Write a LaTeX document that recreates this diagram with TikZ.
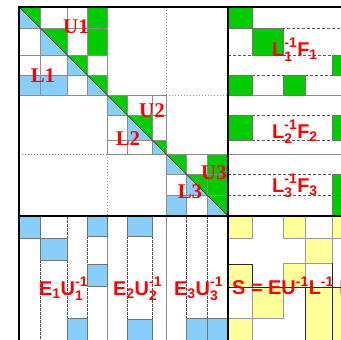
\documentclass[tikz,border=0pt]{standalone}
\usepackage{fontspec}
\usepackage{amsmath}
\setmainfont{Liberation Sans}
\newfontfamily\serlabfont{Liberation Serif}
\definecolor{gr}{RGB}{0,204,0}
\definecolor{bl}{RGB}{135,206,250}
\definecolor{yl}{RGB}{255,255,153}
\definecolor{rd}{RGB}{255,0,0}
\tikzset{
  gridl/.style={draw=black!45, line width=0.8bp},
  dotl/.style={draw=black!45, line width=0.8bp, dash pattern=on 0.8bp off 2.2bp},
  dashl/.style={draw=black!65, line width=0.7bp, dash pattern=on 3bp off 2bp},
  dashv/.style={draw=black!70, line width=0.6bp, dash pattern=on 2.5bp off 1.5bp},
  gbox/.style={fill=gr, draw=black!55, line width=0.6bp},
  bbox/.style={fill=bl, draw=black!55, line width=0.6bp},
  ybox/.style={fill=yl, draw=black!40, line width=0.6bp},
  darkl/.style={draw=black!85, line width=0.8bp},
  bord/.style={draw=black, line width=2bp},
  serlab/.style={text=rd, font=\serlabfont\bfseries\fontsize{21}{21}\selectfont, inner sep=0pt},
  sanlab/.style={text=rd, font=\bfseries\fontsize{20}{20}\selectfont, inner sep=0pt, anchor=base west}
}
\begin{document}
\begin{tikzpicture}[x=1bp,y=-1bp]
\clip (0,0) rectangle (341,340);
\fill[white] (0,0) rectangle (341,340);
% partition lines (dotted in empty off-diagonal blocks)
\draw[dotl] (107,7) -- (107,216);
\draw[dotl] (166,7) -- (166,216);
\draw[dotl] (19,95) -- (228,95);
\draw[dotl] (19,154) -- (228,154);
% diagonal cells
\foreach \a/\b/\c/\d in {19/7/40/28, 40/28/67/55, 67/55/87/75, 87/75/107/95,
  107/95/127/115, 127/115/152/140, 152/140/166/154,
  166/154/186/174, 186/174/207/195, 207/195/228/216}{
  \fill[gr] (\a,\b) -- (\c,\b) -- (\c,\d) -- cycle;
  \fill[bl] (\a,\b) -- (\a,\d) -- (\c,\d) -- cycle;
}
% off-diagonal coloured cells of the blocks
\foreach \a/\b/\c/\d in {87/7/107/28, 87/28/107/55, 207/154/228/174, 207/174/228/195}
  \path[gbox] (\a,\b) rectangle (\c,\d);
\foreach \a/\b/\c/\d in {19/75/40/95, 40/75/67/95, 166/195/186/216}
  \path[bbox] (\a,\b) rectangle (\c,\d);
% block grids
\foreach \x in {19,40,67,87,107} \draw[gridl] (\x,7) -- (\x,95);
\foreach \y in {7,28,55,75,95} \draw[gridl] (19,\y) -- (107,\y);
\foreach \x in {107,127,152,166} \draw[gridl] (\x,95) -- (\x,154);
\foreach \y in {95,115,140,154} \draw[gridl] (107,\y) -- (166,\y);
\foreach \x in {166,186,207,228} \draw[gridl] (\x,154) -- (\x,216);
\foreach \y in {154,174,195,216} \draw[gridl] (166,\y) -- (228,\y);
\draw[draw=black!80, line width=0.6bp] (19,7) -- (228,216);
% right part: L^{-1}F
\draw[gridl] (228,95) -- (341,95);
\draw[gridl] (228,154) -- (341,154);
\draw[dashl] (252,28) -- (341,28);
\draw[dashl] (228,55) -- (332,55);
\draw[dashl] (252,75) -- (283,75);
\draw[dashl] (305,75) -- (341,75);
\draw[dashl] (252,115) -- (332,115);
\draw[dashl] (252,140) -- (332,140);
\draw[dashl] (228,174) -- (332,174);
\draw[dashl] (228,195) -- (332,195);
\foreach \a/\b/\c/\d in {228/7/252/28, 252/28/283/55, 332/55/345/75, 228/75/252/95,
  283/75/305/95, 228/115/252/140, 332/115/345/140, 332/174/345/195, 332/195/345/216}
  \path[gbox] (\a,\b) rectangle (\c,\d);
% bottom-left: E U^{-1}
\foreach \x in {40,67,87,127,152,186,207} \draw[dashv] (\x,216) -- (\x,340);
\draw[gridl] (107,216) -- (107,340);
\draw[gridl] (166,216) -- (166,340);
\foreach \a/\b/\c/\d in {19/216/40/238, 40/238/67/260, 87/216/107/236, 87/264/107/286,
  67/318/87/345, 127/216/152/236, 127/319/152/345, 186/318/207/345, 207/318/228/345}
  \path[bbox] (\a,\b) rectangle (\c,\d);
% bottom-right: S
\foreach \a/\b/\c/\d in {228/216/252/238, 283/216/305/238, 332/216/345/238, 305/238/332/263,
  283/263/305/287, 252/287/283/318, 305/287/332/345, 228/318/252/345, 332/287/345/345}
  \path[ybox] (\a,\b) rectangle (\c,\d);
\path[ybox] (228,264) rectangle (252,287);
\draw[darkl] (228,264) -- (252,264) -- (252,287);
\draw[darkl] (228,287) -- (341,287);
\draw[darkl] (305,287) -- (305,340);
\draw[darkl] (332,263) -- (332,340);
% thick borders
\draw[bord] (19,6) -- (19,340);
\draw[bord] (18,7) -- (341,7);
\draw[bord] (228,7) -- (228,340);
\draw[bord] (19,216) -- (341,216);
% labels
\node[serlab] (u1) at (76,27) {U1};
\node[serlab] (l1) at (43,76) {L1};
\node[serlab] (u2) at (152,111) {U2};
\node[serlab] (l2) at (128,139) {L2};
\node[serlab] (u3) at (214,173) {U3};
\node[serlab] (l3) at (190,192) {L3};
\node[sanlab] (f1) at (272,56) {$\text{L}^{\text{-1}}_{\text{1}}\text{F}_{\text{1}}$};
\node[sanlab] (f2) at (272,138) {$\text{L}^{\text{-1}}_{\text{2}}\text{F}_{\text{2}}$};
\node[sanlab] (f3) at (272,192) {$\text{L}^{\text{-1}}_{\text{3}}\text{F}_{\text{3}}$};
\node[sanlab] (e1) at (39,295) {$\text{E}_{\text{1}}\text{U}^{\text{-1}}_{\text{1}}$};
\node[sanlab] (e2) at (113,295) {$\text{E}_{\text{2}}\text{U}^{\text{-1}}_{\text{2}}$};
\node[sanlab] (e3) at (174,295) {$\text{E}_{\text{3}}\text{U}^{\text{-1}}_{\text{3}}$};
\node[sanlab] (s) at (232,294) {S = EU$^{\text{-1}}$L$^{\text{-1}}$ F};
\end{tikzpicture}
\end{document}
